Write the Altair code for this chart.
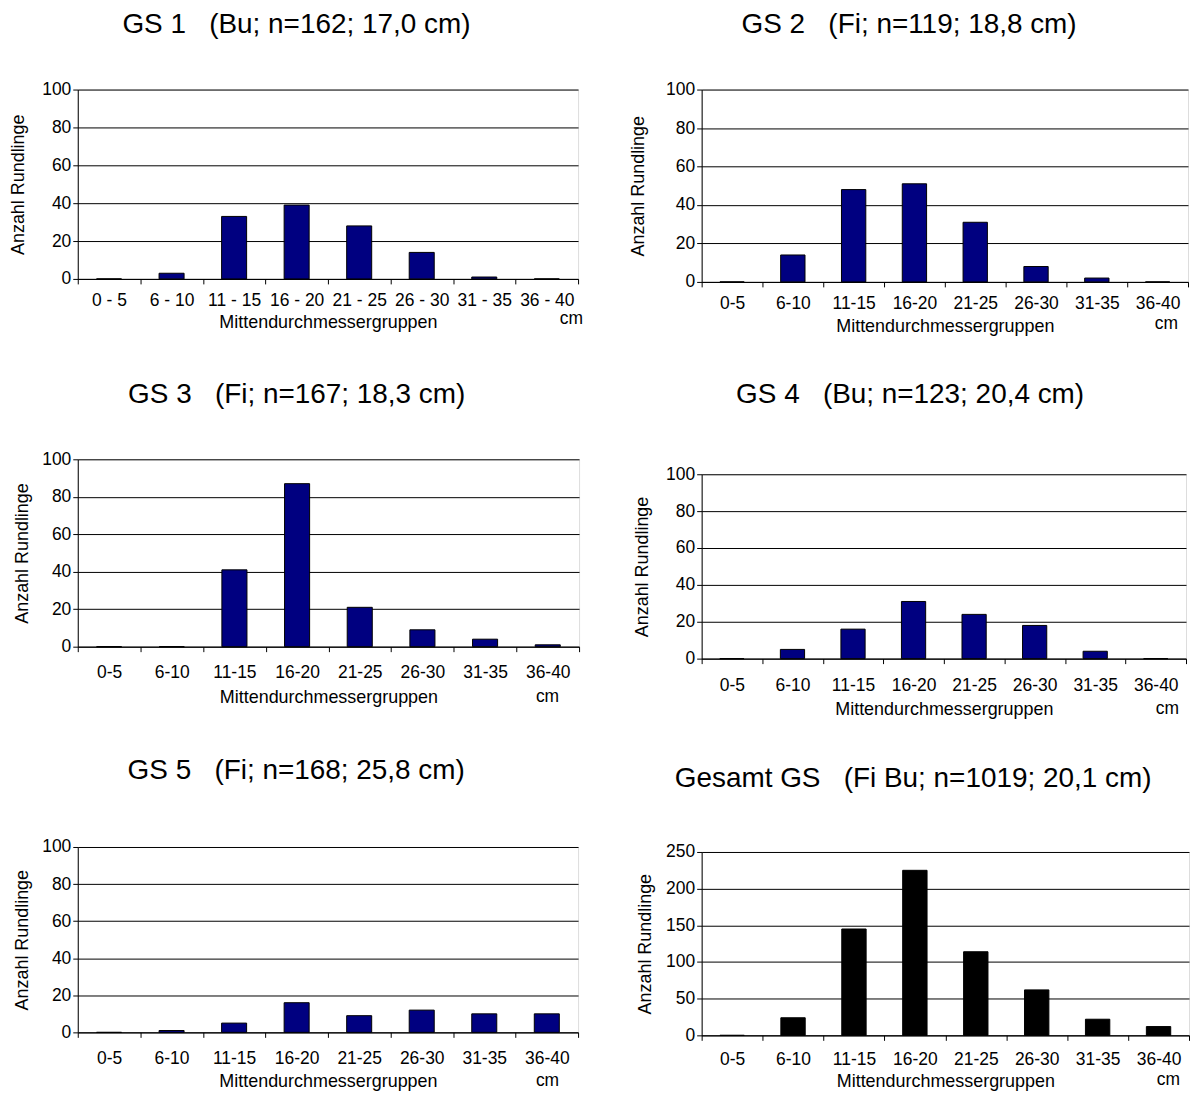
import altair as alt
import pandas as pd

cats_spaced = ["0 - 5", "6 - 10", "11 - 15", "16 - 20", "21 - 25", "26 - 30", "31 - 35", "36 - 40"]
cats = ["0-5", "6-10", "11-15", "16-20", "21-25", "26-30", "31-35", "36-40"]

gs1 = [0, 3, 33, 39, 28, 14, 1, 0]
gs2 = [0, 14, 48, 51, 31, 8, 2, 0]
gs3 = [0, 0, 41, 87, 21, 9, 4, 1]
gs4 = [0, 5, 16, 31, 24, 18, 4, 0]
gs5 = [0, 1, 5, 16, 9, 12, 10, 10]
gesamt = [0, 24, 145, 225, 114, 62, 22, 12]

NB = "\u00a0"
titles = [
    "GS 1" + NB * 3 + "(Bu; n=162; 17,0 cm)",
    "GS 2" + NB * 3 + "(Fi; n=119; 18,8 cm)",
    "GS 3" + NB * 3 + "(Fi; n=167; 18,3 cm)",
    "GS 4" + NB * 3 + "(Bu; n=123; 20,4 cm)",
    "GS 5" + NB * 3 + "(Fi; n=168; 25,8 cm)",
    "Gesamt GS" + NB * 3 + "(Fi Bu; n=1019; 20,1 cm)",
]

FONT = "Liberation Sans"
NAVY = "#000080"
TICK_FS = 17.5
AXT_FS = 18
TITLE_FS = 28


def panel(title, labels, values, color, ymax, ystep, w, h, toff,
          xlabpad, xtitlepad, ytitlepad, cm_dx, cm_dy):
    df = pd.DataFrame({"k": labels, "v": values})
    x = alt.X("k:N", sort=labels,
              scale=alt.Scale(paddingInner=0, paddingOuter=0),
              axis=alt.Axis(title="Mittendurchmessergruppen", labelAngle=0,
                            tickBand="extent", tickSize=5, tickColor="black",
                            domainColor="black", labelColor="black",
                            labelFontSize=TICK_FS, labelFont=FONT,
                            labelPadding=xlabpad, titlePadding=xtitlepad,
                            titleFontSize=AXT_FS, titleFont=FONT,
                            titleFontWeight="normal", titleColor="black",
                            labelOverlap=False))
    y = alt.Y("v:Q",
              scale=alt.Scale(domain=[0, ymax], nice=False),
              axis=alt.Axis(title="Anzahl Rundlinge",
                            values=list(range(0, ymax + 1, ystep)),
                            grid=True, gridColor="black", gridOpacity=1,
                            tickSize=5, tickColor="black", domainColor="black",
                            labelColor="black", labelFontSize=TICK_FS, labelFont=FONT,
                            labelPadding=2, titlePadding=ytitlepad,
                            titleFontSize=AXT_FS, titleFont=FONT,
                            titleFontWeight="normal", titleColor="black"))
    bars = alt.Chart(df).mark_bar(
        width=alt.RelativeBandSize(0.4), fill=color, stroke="black",
        strokeWidth=1).encode(x=x, y=y)
    cm = alt.Chart(pd.DataFrame({"t": ["cm"]})).mark_text(
        font=FONT, fontSize=TICK_FS, align="right", baseline="middle",
        color="black").encode(text="t:N", x=alt.value(w + cm_dx), y=alt.value(h + cm_dy))
    return alt.layer(bars, cm).properties(
        width=w, height=h,
        title=alt.TitleParams(title, font=FONT, fontSize=TITLE_FS,
                              fontWeight="normal", color="black",
                              anchor="middle", frame="bounds", offset=toff))


#            title      labels       values  color  ymax step  w    h   toff xlp xtp ytp cmdx cmdy
p1 = panel(titles[0], cats_spaced, gs1, NAVY, 100, 20, 502, 190, 42, 8, 4, 14, 5, 40)
p3 = panel(titles[2], cats, gs3, NAVY, 100, 20, 503, 188, 41, 12, 8, 10, -20, 51)
p5 = panel(titles[4], cats, gs5, NAVY, 100, 20, 502, 186, 53, 12, 6, 10, -19, 49)

p2 = panel(titles[1], cats, gs2, NAVY, 100, 20, 488, 193, 42, 8, 5, 18, -10, 42)
p4 = panel(titles[3], cats, gs4, NAVY, 100, 20, 486, 185, 56, 13, 7, 14, -7, 51)
p6 = panel(titles[5], cats, gesamt, "black", 250, 50, 489, 184, 50, 10, 5, 11, -9, 45)

col1 = alt.vconcat(p1, p3, p5, spacing=49)
col2 = alt.vconcat(p2, p4, p6, spacing=45)

chart = alt.hconcat(col1, col2, spacing=45).configure_view(
    stroke="black", strokeWidth=1
).configure(background="white", padding={"left": 1, "top": 0, "right": 0, "bottom": 0})

chart.save("out.html", embed_options={"renderer": "svg", "actions": False})
